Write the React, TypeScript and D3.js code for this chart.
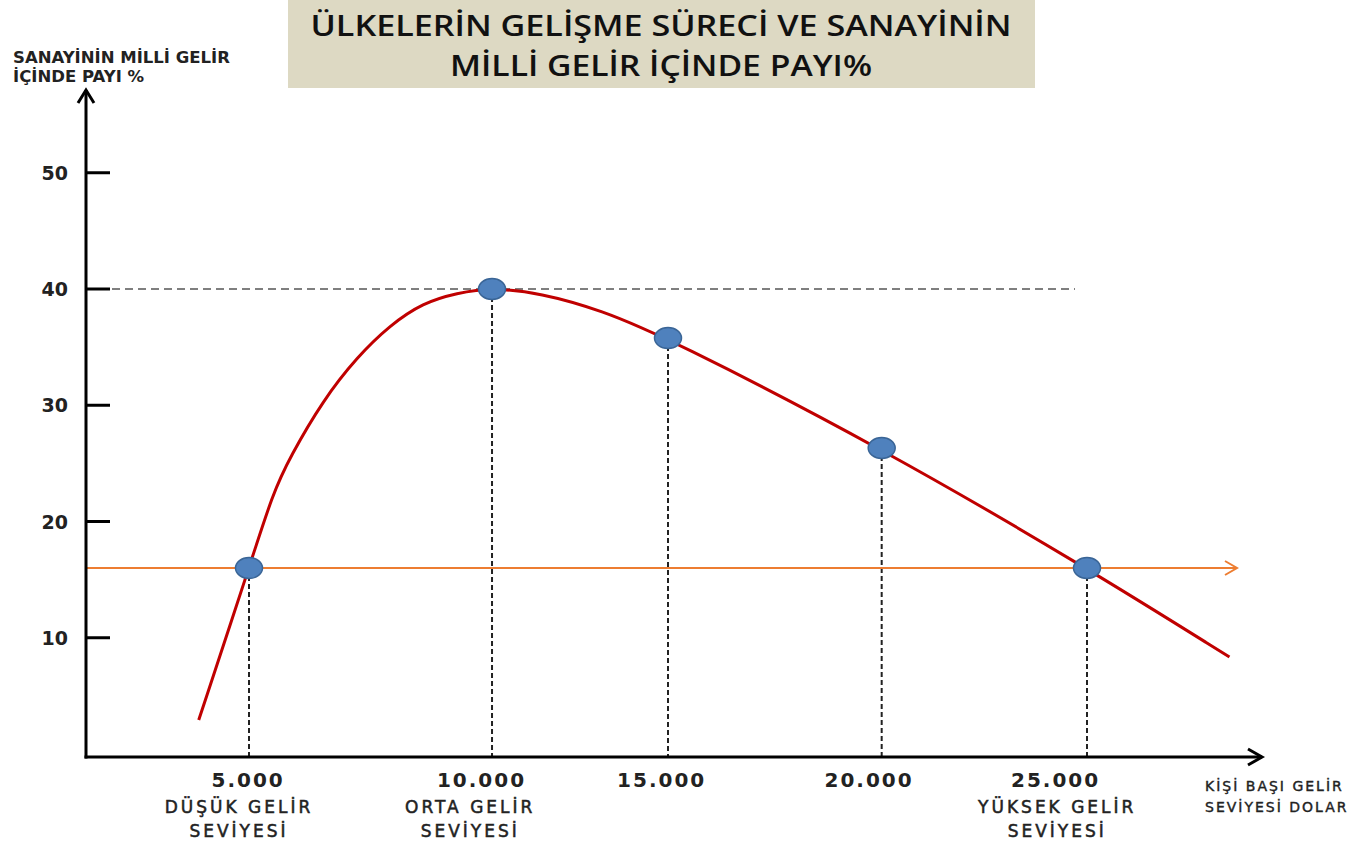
import React from "react";
import * as d3 from "d3";

// ---- data ----
const yTicks = [10, 20, 30, 40, 50];
const pointIncome = [5000, 10800, 15000, 20100, 25000];
const pointShare = [16, 40, 35.78, 26.32, 16];
const tickLabels = ["5.000", "10.000", "15.000", "20.000", "25.000"];
const tickLabelIncome = [4980, 10550, 14850, 19800, 24250];
const levelLine1 = ["DÜŞÜK GELİR", "ORTA GELİR", "YÜKSEK GELİR"];
const levelLine2 = ["SEVİYESİ", "SEVİYESİ", "SEVİYESİ"];
const levelIncome = [4760, 10280, 24290];
const curveIncome = [3800, 5000, 5570, 5980, 6770, 7580, 8370, 9150, 9960, 10800, 11950, 13400, 15000, 20100, 25000, 28400];
const curveShare = [2.92, 16, 22.45, 25.55, 30.45, 34.15, 36.9, 38.8, 39.66, 40.1, 39.66, 38.19, 35.78, 26.32, 16, 8.34];
const thresholdShare = 16;
const peakShare = 40;
const titleLines = ["ÜLKELERİN GELİŞME SÜRECİ VE SANAYİNİN", "MİLLİ GELİR İÇİNDE PAYI%"];
const titleWidths = [701, 422];
const yTitleLines = ["SANAYİNİN MİLLİ GELİR", "İÇİNDE PAYI %"];
const xTitleLines = ["KİŞİ BAŞI GELİR", "SEVİYESİ DOLAR"];

export default function App() {
  const W = 1360, H = 844;
  const x = d3.scaleLinear().domain([5000, 25000]).range([249, 1087]);
  const y = d3.scaleLinear().domain([0, 50]).range([754, 172.75]);
  const axisX0 = 86;
  const axisY0 = 757;
  const xEnd = 1262;
  const yTop = 90;
  const orangeEnd = 1237;
  const peakLineEnd = 1075;

  const curveData = curveIncome.map((v, i) => [v, curveShare[i]] as [number, number]);
  const line = d3
    .line<[number, number]>()
    .x((d) => x(d[0]))
    .y((d) => y(d[1]))
    .curve(d3.curveBasis);

  const tickFont = "DejaVu Sans, Verdana, sans-serif";

  return (
    <svg width={W} height={H} style={{ position: "absolute", left: 0, top: 0, background: "#fff" }}>
      {/* Title box */}
      <rect x={288} y={0} width={747} height={88} fill="#DDD9C3" />
      {titleLines.map((t, i) => (
        <text
          key={t}
          x={661}
          y={36 + i * 40}
          textAnchor="middle"
          fontFamily="Open Sans, sans-serif"
          fontWeight={600}
          fontSize={28}
          textLength={titleWidths[i]}
          lengthAdjust="spacingAndGlyphs"
          fill="#111"
        >
          {t}
        </text>
      ))}

      {/* Y axis title */}
      {yTitleLines.map((t, i) => (
        <text
          key={t}
          x={13}
          y={63 + i * 19}
          fontFamily={tickFont}
          fontWeight="bold"
          fontSize={16.5}
          fill="#222"
        >
          {t}
        </text>
      ))}

      {/* dashed peak line */}
      <line
        x1={axisX0}
        x2={peakLineEnd}
        y1={y(peakShare)}
        y2={y(peakShare)}
        stroke="#555"
        strokeWidth={1.5}
        strokeDasharray="8 5"
      />

      {/* vertical dashed drop lines */}
      {pointIncome.map((v, i) => (
        <line
          key={"d" + i}
          x1={x(v)}
          x2={x(v)}
          y1={y(pointShare[i])}
          y2={axisY0}
          stroke="#222"
          strokeWidth={2}
          strokeDasharray="5 3"
        />
      ))}

      {/* orange threshold arrow */}
      <line
        x1={axisX0}
        x2={orangeEnd}
        y1={y(thresholdShare)}
        y2={y(thresholdShare)}
        stroke="#ED7D31"
        strokeWidth={2}
      />
      <path
        d={`M${orangeEnd - 12},${y(thresholdShare) - 7} L${orangeEnd},${y(thresholdShare)} L${orangeEnd - 12},${y(thresholdShare) + 7}`}
        fill="none"
        stroke="#ED7D31"
        strokeWidth={2}
      />

      {/* red curve */}
      <path d={line(curveData) || ""} fill="none" stroke="#C00000" strokeWidth={3} />

      {/* points */}
      {pointIncome.map((v, i) => (
        <ellipse
          key={"p" + i}
          cx={x(v)}
          cy={y(pointShare[i])}
          rx={13.5}
          ry={10.5}
          fill="#4F81BD"
          stroke="#3A6596"
          strokeWidth={1.5}
        />
      ))}

      {/* axes */}
      <line x1={axisX0} x2={axisX0} y1={axisY0 + 1.5} y2={yTop} stroke="#000" strokeWidth={3} />
      <path
        d={`M${axisX0 - 8},${yTop + 13} L${axisX0},${yTop} L${axisX0 + 8},${yTop + 13}`}
        fill="none"
        stroke="#000"
        strokeWidth={3}
      />
      <line x1={axisX0 - 1.5} x2={xEnd} y1={axisY0} y2={axisY0} stroke="#000" strokeWidth={3} />
      <path
        d={`M${xEnd - 14},${axisY0 - 8} L${xEnd},${axisY0} L${xEnd - 14},${axisY0 + 8}`}
        fill="none"
        stroke="#000"
        strokeWidth={3}
      />

      {/* y ticks */}
      {yTicks.map((t) => (
        <g key={"yt" + t}>
          <line x1={axisX0} x2={110} y1={y(t)} y2={y(t)} stroke="#000" strokeWidth={3} />
          <text
            x={68}
            y={y(t) + 7}
            textAnchor="end"
            fontFamily={tickFont}
            fontWeight="bold"
            fontSize={19}
            fill="#222"
          >
            {t}
          </text>
        </g>
      ))}

      {/* x tick labels */}
      {tickLabels.map((t, i) => (
        <text
          key={"xl" + i}
          x={x(tickLabelIncome[i])}
          y={787}
          textAnchor="middle"
          fontFamily={tickFont}
          fontWeight="bold"
          fontSize={20}
          letterSpacing={2}
          fill="#222"
        >
          {t}
        </text>
      ))}

      {/* income level labels */}
      {levelLine1.map((t, i) => (
        <g key={"lv" + i}>
          <text
            x={x(levelIncome[i])}
            y={813}
            textAnchor="middle"
            fontFamily={tickFont}
            fontSize={17}
            letterSpacing={3}
            fill="#222"
            stroke="#222"
            strokeWidth={0.5}
          >
            {t}
          </text>
          <text
            x={x(levelIncome[i])}
            y={837}
            textAnchor="middle"
            fontFamily={tickFont}
            fontSize={17}
            letterSpacing={3}
            fill="#222"
            stroke="#222"
            strokeWidth={0.5}
          >
            {levelLine2[i]}
          </text>
        </g>
      ))}

      {/* x axis title */}
      {xTitleLines.map((t, i) => (
        <text
          key={t}
          x={1205}
          y={791 + i * 21}
          fontFamily={tickFont}
          fontSize={14}
          letterSpacing={2}
          fill="#222"
          stroke="#222"
          strokeWidth={0.4}
        >
          {t}
        </text>
      ))}
    </svg>
  );
}
